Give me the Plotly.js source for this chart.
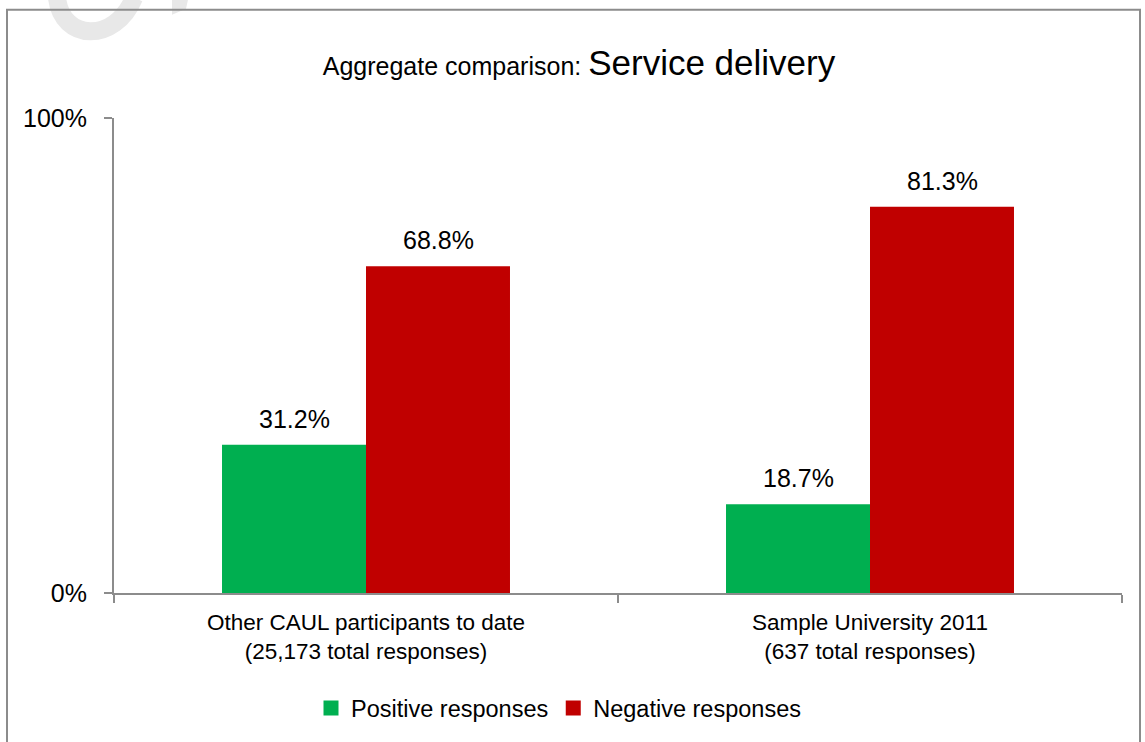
<!DOCTYPE html>
<html>
<head>
<meta charset="utf-8">
<script src="https://cdn.plot.ly/plotly-3.0.1.min.js"></script>
<style>
  html, body { margin: 0; padding: 0; background: #ffffff; }
  #chart { width: 1145px; height: 742px; }
</style>
</head>
<body>
<div id="chart"></div>
<script>
// ---- data ----
const categories = [
  "Other CAUL participants to date<br>(25,173 total responses)",
  "Sample University 2011<br>(637 total responses)"
];
const seriesNames = ["Positive responses", "Negative responses"];
const positiveValues = [31.2, 18.7];
const negativeValues = [68.8, 81.3];
const yTickValues = [0, 100];
const yTickLabels = ["0%", "100%"];

// ---- style ----
const FONT = "Liberation Sans, Arial, sans-serif";
const colors = ["#00AF50", "#C00000"];
const W = 1145, H = 742;
const M = { l: 114, r: 23, t: 118, b: 146 };
const pw = W - M.l - M.r, ph = H - M.t - M.b;
const px2x = p => (p - M.l) / pw;
const py2y = p => (H - M.b - p) / ph;
const pt = (x, y) => px2x(x).toFixed(5) + "," + py2y(y).toFixed(5);

const seriesValues = [positiveValues, negativeValues];
const traces = seriesValues.map((vals, i) => ({
  type: "bar",
  name: seriesNames[i],
  x: categories,
  y: vals,
  marker: { color: colors[i], line: { width: 0 } },
  showlegend: false,
  hoverinfo: "skip"
}));
// legend entries (square swatches)
seriesNames.forEach((n, i) => {
  traces.push({
    type: "scatter", mode: "markers", name: n,
    x: [null], y: [null],
    marker: { symbol: "square", size: 15, color: colors[i] },
    showlegend: true, hoverinfo: "skip"
  });
});

const annotations = [];
seriesValues.forEach((vals, i) => {
  vals.forEach((v, j) => {
    annotations.push({
      x: categories[j], y: v, xref: "x", yref: "y",
      text: v.toFixed(1) + "%",
      showarrow: false, yanchor: "bottom",
      xshift: (i === 0 ? -1 : 1) * 72, yshift: 10,
      font: { family: FONT, size: 25, color: "#000000" }
    });
  });
});

const layout = {
  width: W, height: H,
  margin: M,
  paper_bgcolor: "#ffffff", plot_bgcolor: "#ffffff",
  font: { family: FONT, color: "#000000" },
  title: {
    text: '<span style="font-size:25px">Aggregate comparison: </span><span style="font-size:35px">Service delivery</span>',
    x: 579 / W, xanchor: "center",
    y: 1 - 75 / H, yanchor: "bottom",
    font: { family: FONT, size: 25, color: "#000000" }
  },
  barmode: "group",
  bargap: 0.4286,
  bargroupgap: 0,
  xaxis: {
    type: "category",
    range: [-0.5, 1.5],
    showline: true, linecolor: "#8c8c8c", linewidth: 2,
    ticks: "outside", tickson: "boundaries", ticklen: 8, tickcolor: "#8c8c8c", tickwidth: 2,
    ticklabelstandoff: 8,
    showgrid: false, zeroline: false,
    tickfont: { family: FONT, size: 22.5, color: "#000000" },
    fixedrange: true
  },
  yaxis: {
    range: [0, 100],
    tickvals: yTickValues, ticktext: yTickLabels,
    showline: true, linecolor: "#8c8c8c", linewidth: 2,
    ticks: "outside", ticklen: 8, tickcolor: "#8c8c8c", tickwidth: 2,
    ticklabelstandoff: 12,
    showgrid: false, zeroline: false,
    tickfont: { family: FONT, size: 25, color: "#000000" },
    fixedrange: true
  },
  legend: {
    orientation: "h",
    x: px2x(311), xanchor: "left",
    y: py2y(712), yanchor: "middle",
    font: { family: FONT, size: 23.5, color: "#000000" },
    itemwidth: 30,
    bgcolor: "rgba(0,0,0,0)"
  },
  shapes: [
    // faint watermark fragments at the top-left
    {
      type: "path", xref: "paper", yref: "paper",
      path: "M" + pt(57, -3) + " C" + pt(62, 41) + " " + pt(115, 43) + " " + pt(134, -3),
      line: { color: "#e8e8e8", width: 18 }, fillcolor: "rgba(0,0,0,0)", layer: "below"
    },
    {
      type: "path", xref: "paper", yref: "paper",
      path: "M" + pt(172, -1) + " L" + pt(188, -1) + " L" + pt(186, 8) + " L" + pt(172, 14) + " Z",
      line: { width: 0 }, fillcolor: "#e8e8e8", layer: "below"
    },
    {
      type: "rect", xref: "paper", yref: "paper",
      x0: px2x(7), x1: px2x(1140), y0: py2y(760), y1: py2y(9),
      line: { color: "#8c8c8c", width: 2 }, fillcolor: "rgba(0,0,0,0)",
      layer: "below"
    }
  ],
  annotations: annotations
};

Plotly.newPlot("chart", traces, layout, { displayModeBar: false, staticPlot: true });
</script>
</body>
</html>
